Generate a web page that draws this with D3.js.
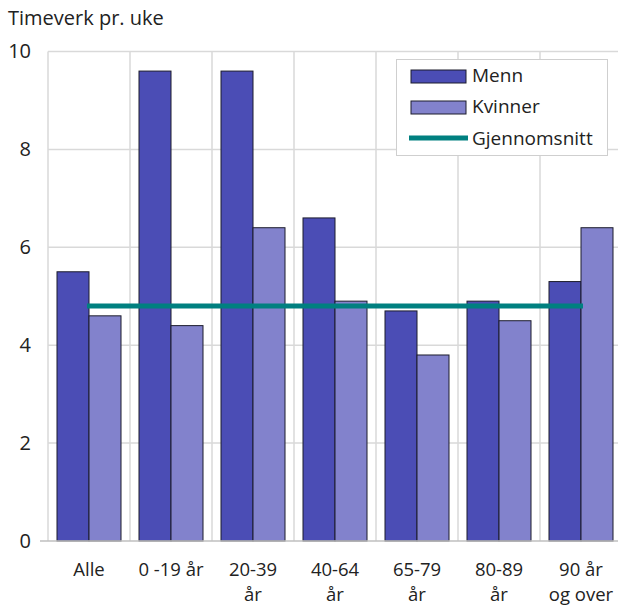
<!DOCTYPE html>
<html>
<head>
<meta charset="utf-8">
<script src="https://cdn.jsdelivr.net/npm/d3@7"></script>
<style>
  html, body { margin: 0; padding: 0; background: #fff; }
  svg { display: block; font-family: "Open Sans", sans-serif; }
</style>
</head>
<body>
<svg id="chart" width="618" height="608"></svg>
<script>
const categories = ["Alle", "0 -19 år", "20-39 år", "40-64 år", "65-79 år", "80-89 år", "90 år og over"];
const categoryLabelLines = [["Alle"], ["0 -19 år"], ["20-39", "år"], ["40-64", "år"], ["65-79", "år"], ["80-89", "år"], ["90 år", "og over"]];
const seriesNames = ["Menn", "Kvinner"];
const menn = [5.5, 9.6, 9.6, 6.6, 4.7, 4.9, 5.3];
const kvinner = [4.6, 4.4, 6.4, 4.9, 3.8, 4.5, 6.4];
const gjennomsnitt = 4.8;
const yTicks = [0, 2, 4, 6, 8, 10];
const yTitle = "Timeverk pr. uke";
const averageLabel = "Gjennomsnitt";

const colors = { Menn: "#4b4db5", Kvinner: "#8282cc" };
const avgColor = "#008080";
const textColor = "#222";

const svg = d3.select("#chart");
const pLeft = 48, pRight = 622, pTop = 51.5, pBottom = 541;

const x = d3.scaleBand().domain(categories).range([pLeft, pRight]).padding(0);
const x1 = d3.scaleBand().domain(seriesNames).range([0, x.bandwidth()]).paddingInner(0).paddingOuter(0.28125);
const y = d3.scaleLinear().domain([0, 10]).range([pBottom, pTop]);

// gridlines
const grid = svg.append("g");
grid.selectAll("line.h").data(yTicks.filter(d => d > 0)).join("line")
  .attr("x1", pLeft).attr("x2", 618).attr("y1", d => y(d)).attr("y2", d => y(d))
  .attr("stroke", "#d9d9d9").attr("stroke-width", 1.5);
grid.selectAll("line.v").data(categories).join("line")
  .attr("x1", d => x(d)).attr("x2", d => x(d)).attr("y1", y(10)).attr("y2", y(0))
  .attr("stroke", "#d9d9d9").attr("stroke-width", 1.5);

// y axis labels
const yAxis = d3.axisLeft(y).tickValues(yTicks).tickSize(0).tickPadding(0).tickFormat(d3.format("d"));
const yg = svg.append("g").attr("transform", `translate(31,0)`).call(yAxis);
yg.select(".domain").remove();
yg.selectAll("text").attr("font-size", 20).attr("fill", textColor).attr("font-family", "Open Sans, sans-serif");

// bars
const data = categories.map((c, i) => ({ c, values: [{ k: "Menn", v: menn[i] }, { k: "Kvinner", v: kvinner[i] }] }));
const groups = svg.append("g").selectAll("g").data(data).join("g")
  .attr("transform", d => `translate(${x(d.c)},0)`);
groups.selectAll("rect").data(d => d.values).join("rect")
  .attr("x", d => x1(d.k)).attr("width", x1.bandwidth())
  .attr("y", d => y(d.v)).attr("height", d => y(0) - y(d.v))
  .attr("fill", d => colors[d.k]).attr("stroke", "#1c1c2c").attr("stroke-width", 1);

// bottom axis line
svg.append("line").attr("x1", 40).attr("x2", 618).attr("y1", y(0)).attr("y2", y(0))
  .attr("stroke", "#bfbfbf").attr("stroke-width", 1.5);

// average line
svg.append("line")
  .attr("x1", x(categories[0]) + x.bandwidth() / 2 - 2)
  .attr("x2", x(categories[categories.length - 1]) + x.bandwidth() / 2 + 2)
  .attr("y1", y(gjennomsnitt)).attr("y2", y(gjennomsnitt))
  .attr("stroke", avgColor).attr("stroke-width", 5);

// x axis labels
const xAxis = d3.axisBottom(x).tickSize(0).tickFormat(() => "");
const xg = svg.append("g").attr("transform", `translate(0,${pBottom})`).call(xAxis);
xg.select(".domain").remove();
xg.selectAll(".tick").each(function(d, i) {
  const t = d3.select(this).select("text").attr("y", 0).attr("dy", null)
    .attr("font-size", 18.5).attr("fill", textColor).attr("font-family", "Open Sans, sans-serif");
  categoryLabelLines[i].forEach((line, j) => {
    t.append("tspan").attr("x", 0).attr("y", 35 + j * 25).text(line);
  });
});

// title
svg.append("text").attr("x", 8).attr("y", 25).attr("font-size", 20).attr("fill", textColor).text(yTitle);

// legend
const lg = svg.append("g");
lg.append("rect").attr("x", 396.5).attr("y", 59.5).attr("width", 211).attr("height", 96)
  .attr("fill", "#fff").attr("stroke", "#cfcfcf").attr("stroke-width", 1);
seriesNames.forEach((k, i) => {
  lg.append("rect").attr("x", 411).attr("y", 70 + i * 31).attr("width", 55).attr("height", 13)
    .attr("fill", colors[k]).attr("stroke", "#1c1c2c").attr("stroke-width", 1);
  lg.append("text").attr("x", 472).attr("y", 82 + i * 31).attr("font-size", 19).attr("fill", textColor).text(k);
});
lg.append("line").attr("x1", 409).attr("x2", 468).attr("y1", 138).attr("y2", 138)
  .attr("stroke", avgColor).attr("stroke-width", 5);
lg.append("text").attr("x", 472).attr("y", 145).attr("font-size", 19).attr("fill", textColor).text(averageLabel);
</script>
</body>
</html>
